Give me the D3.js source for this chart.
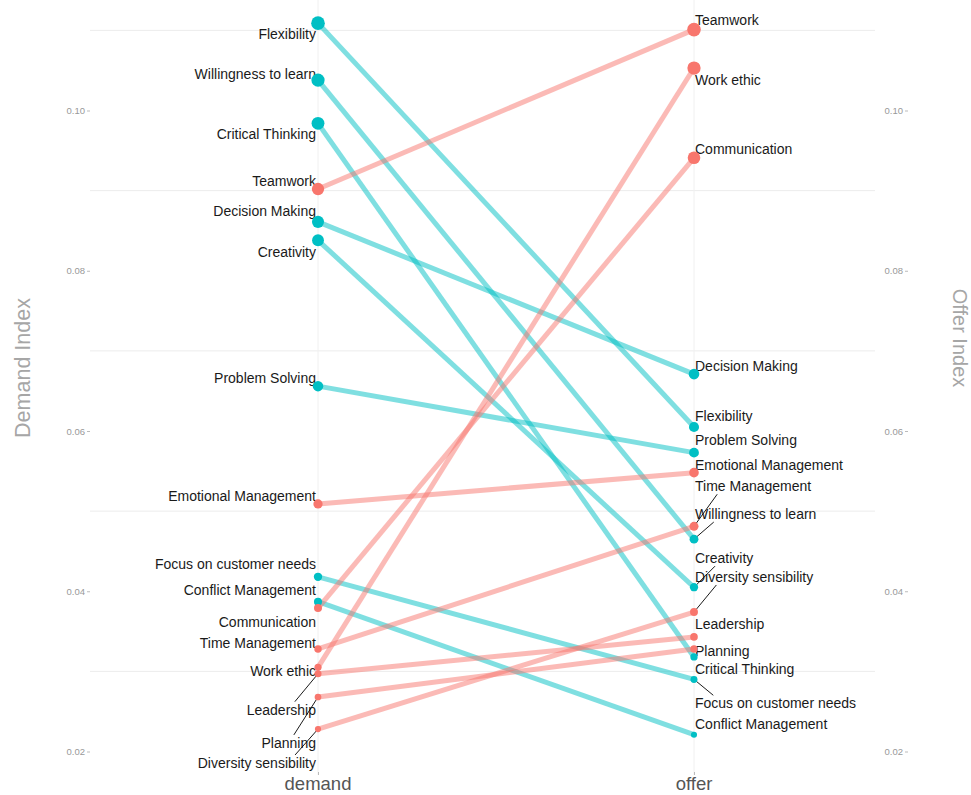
<!DOCTYPE html>
<html>
<head>
<meta charset="utf-8">
<script src="https://cdn.jsdelivr.net/npm/d3@7"></script>
<style>
  body { margin: 0; background: #fff; }
  text { font-family: "Liberation Sans", Arial, sans-serif; }
</style>
</head>
<body>
<div id="chart"></div>
<script>
// skills, demand index and offer index
const skills = ["Flexibility", "Willingness to learn", "Critical Thinking", "Teamwork",
  "Decision Making", "Creativity", "Problem Solving", "Emotional Management",
  "Focus on customer needs", "Conflict Management", "Communication", "Time Management",
  "Work ethic", "Leadership", "Planning", "Diversity sensibility"]
const demand = [0.1109, 0.1038, 0.0984, 0.0902, 0.0861, 0.0838, 0.0656, 0.0509,
  0.0418, 0.0387, 0.0379, 0.0328, 0.0305, 0.0297, 0.0268, 0.0228]
const offer = [0.0605, 0.0465, 0.0318, 0.1101, 0.0671, 0.0405, 0.0573, 0.0548,
  0.0290, 0.0221, 0.0941, 0.0481, 0.1053, 0.0343, 0.0328, 0.0374]
const sides = ["demand", "offer"]
const yTicks = [0.02, 0.04, 0.06, 0.08, 0.10]
const yMinor = [0.03, 0.05, 0.07, 0.09, 0.11]

// where the repelled labels ended up, px above/below their point
const nudgeDemand = [11, -6, 11, -8, -11, 12, -8, -8, -13, -12, 14, -6, 4, 36, 46, 34]
const nudgeOffer = [-11, -25, 12, -9, -8, -29, -13, -8, 24, -11, -9, -40, 12, -13, 2, -35]

const W = 971, H = 795
const RED = "#F8766D", TEAL = "#00BFC4"
const PANEL = { LEFT: 90, RIGHT: 875, BOTTOM: 775 }

const svg = d3.select("#chart").append("svg")
  .attr("width", W).attr("height", H)

const y = d3.scaleLinear().domain([0.02, 0.10]).range([751.5, 110.5])
const x = d3.scalePoint().domain(sides).range([318, 694])
const r = d3.scaleSqrt().domain([0, 0.11]).range([0, 6.8])

const rows = skills.map((s, i) => ({
  skill: s, demand: demand[i], offer: offer[i],
  col: offer[i] > demand[i] ? RED : TEAL,
  nd: nudgeDemand[i], no: nudgeOffer[i]
}))

// grid
svg.append("g").selectAll("line").data(yMinor).join("line")
  .attr("x1", PANEL.LEFT).attr("x2", PANEL.RIGHT)
  .attr("y1", d => y(d)).attr("y2", d => y(d))
  .attr("stroke", "#ececec").attr("stroke-width", 1)
svg.append("g").selectAll("line").data(sides).join("line")
  .attr("x1", d => x(d)).attr("x2", d => x(d))
  .attr("y1", 0).attr("y2", PANEL.BOTTOM)
  .attr("stroke", "#f0f0f0").attr("stroke-width", 1)

// axes
function styleAxis(g) {
  g.select(".domain").remove()
  g.selectAll(".tick line").attr("stroke", "#bbb")
  g.selectAll(".tick text").attr("fill", "#999").style("font-size", "9.5px")
}
const yAxis = d3.axisLeft(y).tickValues(yTicks).tickSize(3).tickPadding(2)
  .tickFormat(d3.format(".2f"))
svg.append("g").attr("transform", `translate(${PANEL.LEFT},0)`).call(yAxis).call(styleAxis)
svg.append("g").attr("transform", `translate(908,0)`).call(yAxis).call(styleAxis)

const xAxis = d3.axisBottom(x).tickSize(3).tickFormat("")
svg.append("g").attr("transform", `translate(0,${PANEL.BOTTOM - 3})`).call(xAxis)
  .call(g => {
    g.select(".domain").remove()
    g.selectAll(".tick line").attr("stroke", "#bbb")
  })
svg.append("g").selectAll("text").data(sides).join("text")
  .attr("x", d => x(d)).attr("y", 790)
  .attr("text-anchor", "middle").attr("fill", "#555").style("font-size", "18.5px")
  .text(d => d)

svg.append("text").attr("transform", "translate(30,368) rotate(-90)")
  .attr("text-anchor", "middle").attr("fill", "#a6a6a6").style("font-size", "21.5px")
  .text("Demand Index")
svg.append("text").attr("transform", "translate(953,338) rotate(90)")
  .attr("text-anchor", "middle").attr("fill", "#a6a6a6").style("font-size", "20px")
  .text("Offer Index")

// slope lines
svg.append("g").selectAll("line").data(rows).join("line")
  .attr("x1", x("demand")).attr("x2", x("offer"))
  .attr("y1", d => y(d.demand)).attr("y2", d => y(d.offer))
  .attr("stroke", d => d.col).attr("stroke-width", 5).attr("stroke-opacity", 0.5)

// labels, then leader segments towards the label box
const labG = svg.append("g")
const segG = svg.append("g")

// t at which the ray p + t*v enters the box (slab method)
function enterT(p0, v, lo, hi) {
  if (p0 >= lo && p0 <= hi) return 0
  if (v === 0) return Infinity
  return ((v > 0 ? lo : hi) - p0) / v
}

function addLabels(side, key, nudgeKey, anchor, dx) {
  rows.forEach(d => {
    const px = x(side), py = y(d[key])
    const t = labG.append("text")
      .attr("x", px + dx).attr("y", py + d[nudgeKey])
      .attr("dy", "0.35em").attr("text-anchor", anchor)
      .attr("fill", "#1a1a1a").style("font-size", "14px")
      .text(d.skill)
    const b = t.node().getBBox()
    // only labels pushed well away from their point get a segment
    const gapX = Math.max(b.x - px, 0, px - (b.x + b.width))
    const gapY = Math.max(b.y - py, 0, py - (b.y + b.height))
    if (Math.hypot(gapX, gapY) < 8) return
    // aim a little way in from the label's near end
    const reach = Math.min(28, b.width / 2)
    const ax = anchor === "end" ? b.x + b.width - reach : b.x + reach
    const ay = b.y + b.height / 2
    const vx = ax - px, vy = ay - py
    const tt = Math.max(enterT(px, vx, b.x, b.x + b.width), enterT(py, vy, b.y, b.y + b.height))
    if (!isFinite(tt) || tt <= 0) return
    segG.append("line").attr("x1", px).attr("y1", py)
      .attr("x2", px + vx * tt).attr("y2", py + vy * tt)
      .attr("stroke", "#000").attr("stroke-width", 0.9)
  })
}
addLabels("demand", "demand", "nd", "end", -2)
addLabels("offer", "offer", "no", "start", 1)

// points
svg.append("g").selectAll("circle").data(rows).join("circle")
  .attr("cx", x("demand")).attr("cy", d => y(d.demand)).attr("r", d => r(d.demand))
  .attr("fill", d => d.col)
svg.append("g").selectAll("circle").data(rows).join("circle")
  .attr("cx", x("offer")).attr("cy", d => y(d.offer)).attr("r", d => r(d.offer))
  .attr("fill", d => d.col)
</script>
</body>
</html>
